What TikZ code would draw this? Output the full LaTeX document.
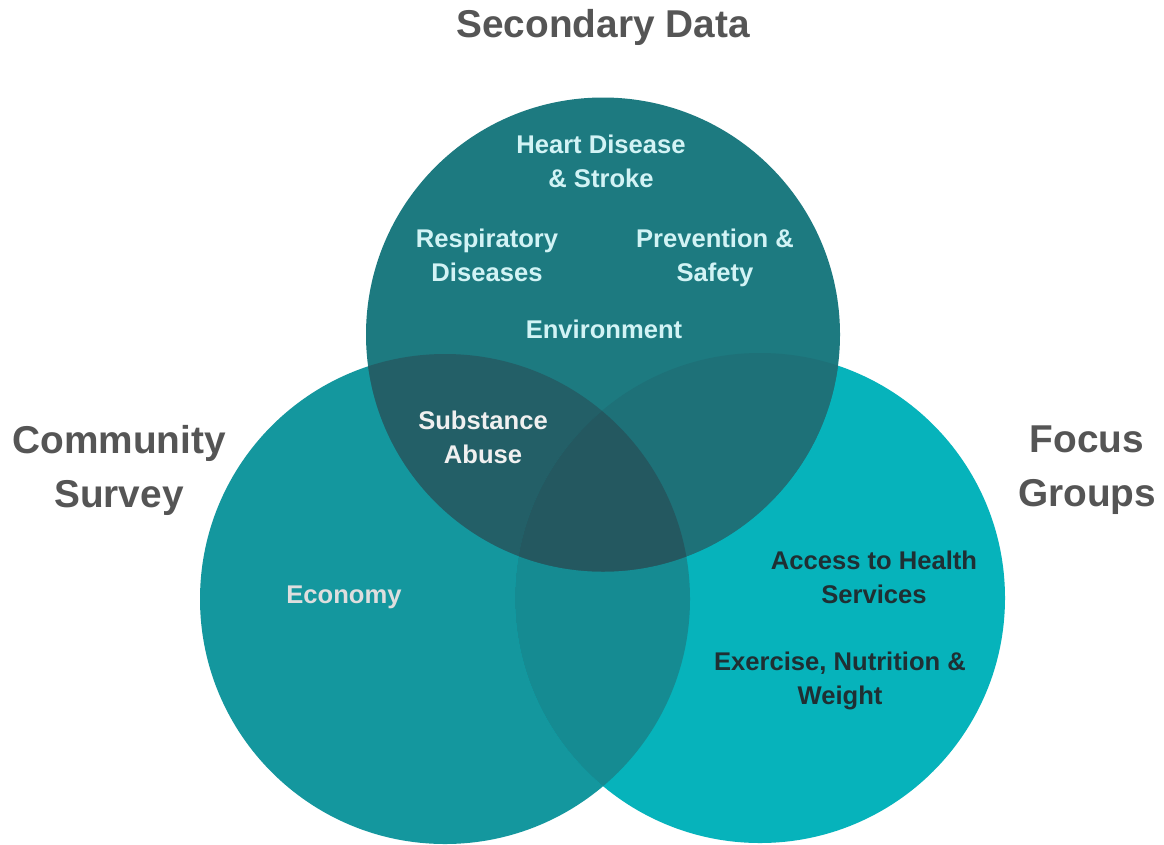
\documentclass[tikz,border=0pt]{standalone}
\usepackage{fontspec}
\setmainfont{Liberation Sans}
\definecolor{cTop}{HTML}{1D7A80}
\definecolor{cLeft}{HTML}{14979E}
\definecolor{cRight}{HTML}{06B3BB}
\definecolor{cTL}{HTML}{235F67}
\definecolor{cTR}{HTML}{1E7178}
\definecolor{cLR}{HTML}{158B92}
\definecolor{cAll}{HTML}{245860}
\definecolor{titlegray}{HTML}{555555}
\definecolor{lightcyan}{HTML}{D2F3F5}
\definecolor{darktext}{HTML}{1F2F33}
\begin{document}
\begin{tikzpicture}[x=1pt,y=-1pt,
  title/.style={font=\fontsize{38.8}{54}\selectfont\bfseries, text=titlegray, align=center, inner sep=0pt},
  lab/.style={font=\fontsize{25.6}{34}\selectfont\bfseries, align=center, inner sep=0pt}]
\useasboundingbox (0,0) rectangle (1164,844);
\fill[white] (0,0) rectangle (1164,844);
\coordinate (T) at (603,334.5);
\coordinate (L) at (445,599);
\coordinate (R) at (760,598);
\def\rT{237}
\def\rL{245}
\def\rR{245}
% base circles
\fill[cLeft] (L) circle[radius=\rL];
\fill[cRight] (R) circle[radius=\rR];
\fill[cTop] (T) circle[radius=\rT];
% left & right
\begin{scope}
  \clip (L) circle[radius=\rL];
  \fill[cLR] (R) circle[radius=\rR];
\end{scope}
% top & left
\begin{scope}
  \clip (T) circle[radius=\rT];
  \fill[cTL] (L) circle[radius=\rL];
\end{scope}
% top & right
\begin{scope}
  \clip (T) circle[radius=\rT];
  \fill[cTR] (R) circle[radius=\rR];
\end{scope}
% all three
\begin{scope}
  \clip (T) circle[radius=\rT];
  \clip (L) circle[radius=\rL];
  \fill[cAll] (R) circle[radius=\rR];
\end{scope}
% titles
\node[title] (sec) at (603,27) {Secondary Data};
\node[title] (com) at (119,470) {Community\\Survey};
\node[title] (foc) at (1087,470) {Focus\\Groups};
% labels
\node[lab, text=lightcyan] (heart) at (601,161) {Heart Disease\\\& Stroke};
\node[lab, text=lightcyan] (resp) at (487,255) {Respiratory\\Diseases};
\node[lab, text=lightcyan] (prev) at (715,258) {Prevention \&\\Safety};
\node[lab, text=lightcyan] (env) at (604,329) {Environment};
\node[lab, text=white!94!black] (subs) at (483,437) {Substance\\Abuse};
\node[lab, text=white!87!black] (econ) at (344,597) {Economy};
\node[lab, text=darktext] (acc) at (874,577) {Access to Health\\Services};
\node[lab, text=darktext] (exer) at (840,681) {Exercise, Nutrition \&\\Weight};
\end{tikzpicture}
\end{document}
